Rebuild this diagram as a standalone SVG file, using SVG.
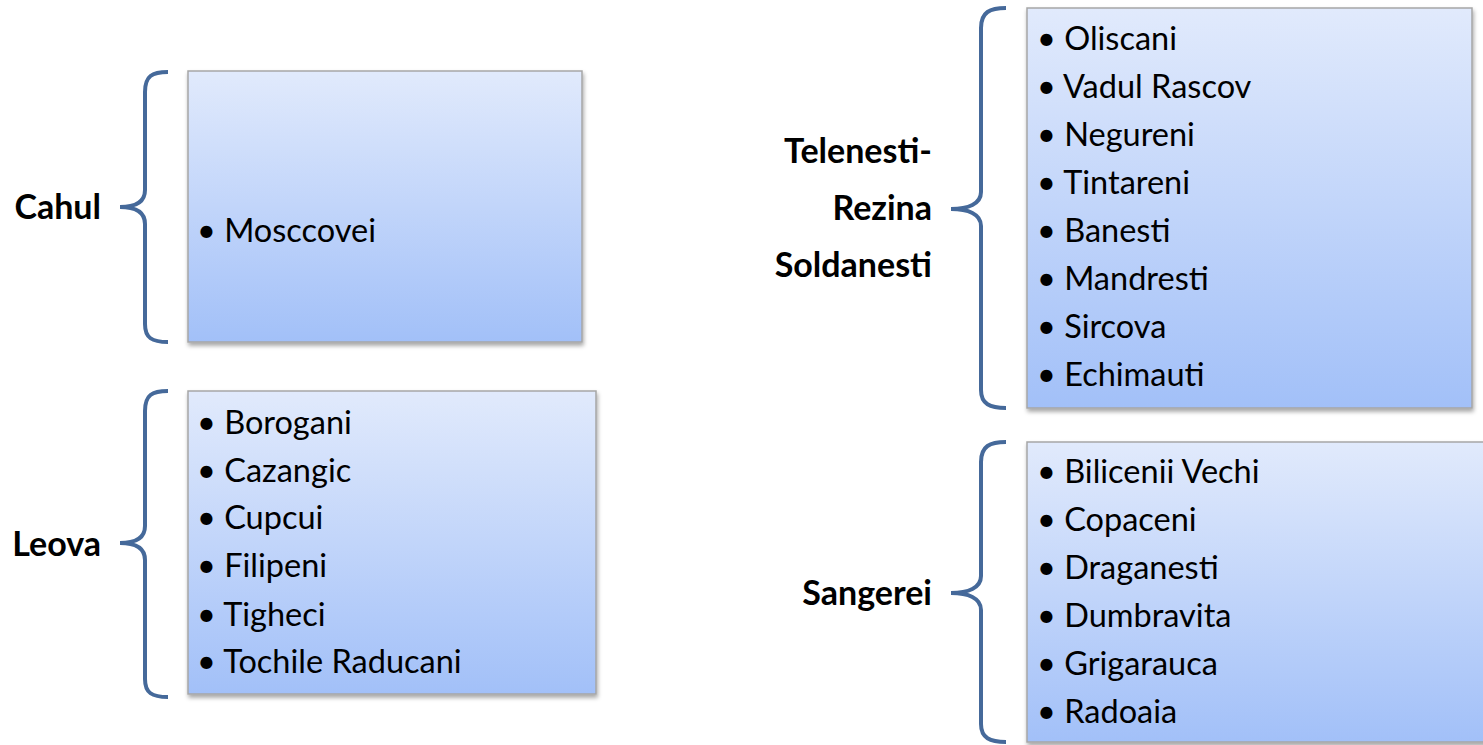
<svg xmlns="http://www.w3.org/2000/svg" width="1483" height="745" viewBox="0 0 1483 745">
<defs>
<linearGradient id="g" x1="0" y1="0" x2="0" y2="1">
<stop offset="0" stop-color="#e1eafc"/>
<stop offset="1" stop-color="#a2c0f8"/>
</linearGradient>
<filter id="sh" x="-5%" y="-5%" width="115%" height="115%">
<feDropShadow dx="1" dy="3" stdDeviation="2" flood-color="#000" flood-opacity="0.35"/>
</filter>
</defs>
<style>
.box{fill:url(#g);stroke:#a6a6a6;stroke-width:1.5;filter:url(#sh)}
.brace{fill:none;stroke:#45699a;stroke-width:4;stroke-linecap:butt}
.lbl{font-family:Lato,"Liberation Sans",sans-serif;font-weight:bold;font-size:34px;fill:#000;text-anchor:end}
.it{font-family:Lato,"Liberation Sans",sans-serif;font-size:32.5px;fill:#000}
</style>
<rect width="1483" height="745" fill="#fff"/>
<g id="connectors">
<path class="brace" d="M168,72 C152,72 145,76 145,92 L145,190 C145,202 136,207 120,207 C136,207 145,212 145,224 L145,324 C145,338 152,342 168,342"/>
<path class="brace" d="M168,391 C152,391 145,395 145,411 L145,526 C145,538 136,543 120,543 C136,543 145,548 145,560 L145,679 C145,693 152,697 168,697"/>
<path class="brace" d="M1006,8 C990,8 981,12 981,28 L981,192 C981,204 968,209 951,209 C968,209 981,214 981,226 L981,390 C981,404 990,408 1006,408"/>
<path class="brace" d="M1006,442 C990,442 981,446 981,462 L981,576 C981,588 968,593 951,593 C968,593 981,598 981,610 L981,724 C981,738 990,742 1006,742"/>
</g>
<g id="cahul">
<rect class="box" x="188" y="71" width="394" height="271"/>
<text class="lbl" x="101" y="219">Cahul</text>
<text class="it" x="197" y="242">• Mosccovei</text>
</g>
<g id="leova">
<rect class="box" x="188" y="391" width="408" height="303"/>
<text class="lbl" x="101" y="556">Leova</text>
<text class="it" x="197" y="434">• Borogani</text>
<text class="it" x="197" y="482">• Cazangic</text>
<text class="it" x="197" y="529">• Cupcui</text>
<text class="it" x="197" y="577">• Filipeni</text>
<text class="it" x="197" y="626">• Tigheci</text>
<text class="it" x="197" y="673">• Tochile Raducani</text>
</g>
<g id="telenesti">
<rect class="box" x="1027" y="8" width="445" height="400"/>
<text class="lbl" x="932" y="163">Telenesti-</text>
<text class="lbl" x="932" y="220">Rezina</text>
<text class="lbl" x="932" y="277">Soldanesti</text>
<text class="it" x="1037" y="50">• Oliscani</text>
<text class="it" x="1037" y="98">• Vadul Rascov</text>
<text class="it" x="1037" y="146">• Negureni</text>
<text class="it" x="1037" y="194">• Tintareni</text>
<text class="it" x="1037" y="242">• Banesti</text>
<text class="it" x="1037" y="290">• Mandresti</text>
<text class="it" x="1037" y="338">• Sircova</text>
<text class="it" x="1037" y="386">• Echimauti</text>
</g>
<g id="sangerei">
<rect class="box" x="1027" y="442" width="470" height="300"/>
<text class="lbl" x="932" y="605">Sangerei</text>
<text class="it" x="1037" y="483">• Bilicenii Vechi</text>
<text class="it" x="1037" y="531">• Copaceni</text>
<text class="it" x="1037" y="579">• Draganesti</text>
<text class="it" x="1037" y="627">• Dumbravita</text>
<text class="it" x="1037" y="675">• Grigarauca</text>
<text class="it" x="1037" y="723">• Radoaia</text>
</g>
</svg>
